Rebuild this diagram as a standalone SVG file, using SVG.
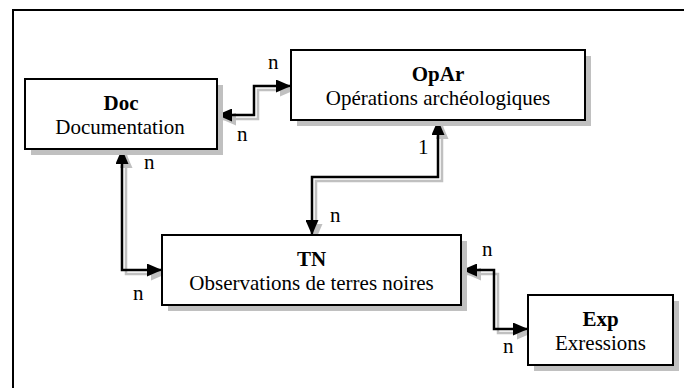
<svg xmlns="http://www.w3.org/2000/svg" width="684" height="388" viewBox="0 0 684 388" font-family="'Liberation Serif', 'DejaVu Serif', 'Times New Roman', serif">
<style>
text{font-family:'Liberation Serif','DejaVu Serif','Times New Roman',serif;font-size:21px;fill:#000}
.t{font-weight:bold;text-anchor:middle}
.s{text-anchor:middle}
.box{fill:#fff;stroke:#000;stroke-width:2}
.shd{fill:#c0c0c0;stroke:none}
.ln{fill:none;stroke:#000;stroke-width:2.5;marker-start:url(#ab);marker-end:url(#ab)}
.lns{fill:none;stroke:#c0c0c0;stroke-width:2.5;marker-start:url(#ag);marker-end:url(#ag)}
.frame{fill:none;stroke:#000;stroke-width:2}
</style>
<defs>
<marker id="ab" markerUnits="userSpaceOnUse" viewBox="0 0 15 13" refX="15" refY="6.5" markerWidth="15" markerHeight="13" orient="auto-start-reverse"><path d="M0,0 L15,6.5 L0,13 z" fill="#000"/></marker>
<marker id="ag" markerUnits="userSpaceOnUse" viewBox="0 0 15 13" refX="15" refY="6.5" markerWidth="15" markerHeight="13" orient="auto-start-reverse"><path d="M0,0 L15,6.5 L0,13 z" fill="#c0c0c0"/></marker>
</defs>
<rect width="684" height="388" fill="#fff"/>
<path class="frame" d="M13,390 V10 H686"/>
<g id="connectors">
<g transform="translate(4,4)">
<path class="lns" d="M217,115 H254 V86 H291"/>
<path class="lns" d="M122,149 V270 H162"/>
<path class="lns" d="M438,120 V177 H312 V235"/>
<path class="lns" d="M462,270 H494 V329 H528"/>
</g>
<path class="ln" d="M217,115 H254 V86 H291"/>
<path class="ln" d="M122,149 V270 H162"/>
<path class="ln" d="M438,120 V177 H312 V235"/>
<path class="ln" d="M462,270 H494 V329 H528"/>
<text x="268" y="69">n</text>
<text x="237" y="141">n</text>
<text x="144" y="169">n</text>
<text x="418" y="154">1</text>
<text x="330" y="222">n</text>
<text x="133" y="300">n</text>
<text x="482" y="256">n</text>
<text x="503" y="353">n</text>
</g>
<g id="doc">
<rect class="shd" x="31" y="85" width="192" height="70"/>
<rect class="box" x="25" y="79" width="192" height="70"/>
<text class="t" x="121" y="110">Doc</text>
<text class="s" x="120" y="134">Documentation</text>
</g>
<g id="opar">
<rect class="shd" x="297" y="56" width="294" height="70"/>
<rect class="box" x="291" y="50" width="294" height="70"/>
<text class="t" x="438" y="81">OpAr</text>
<text class="s" x="438" y="105">Opérations archéologiques</text>
</g>
<g id="tn">
<rect class="shd" x="168" y="241" width="299" height="70"/>
<rect class="box" x="162" y="235" width="299" height="70"/>
<text class="t" x="311.5" y="266">TN</text>
<text class="s" x="311.5" y="290">Observations de terres noires</text>
</g>
<g id="exp">
<rect class="shd" x="534" y="301" width="145" height="70"/>
<rect class="box" x="528" y="295" width="145" height="70"/>
<text class="t" x="600.5" y="326">Exp</text>
<text class="s" x="600.5" y="350">Exressions</text>
</g>
</svg>
